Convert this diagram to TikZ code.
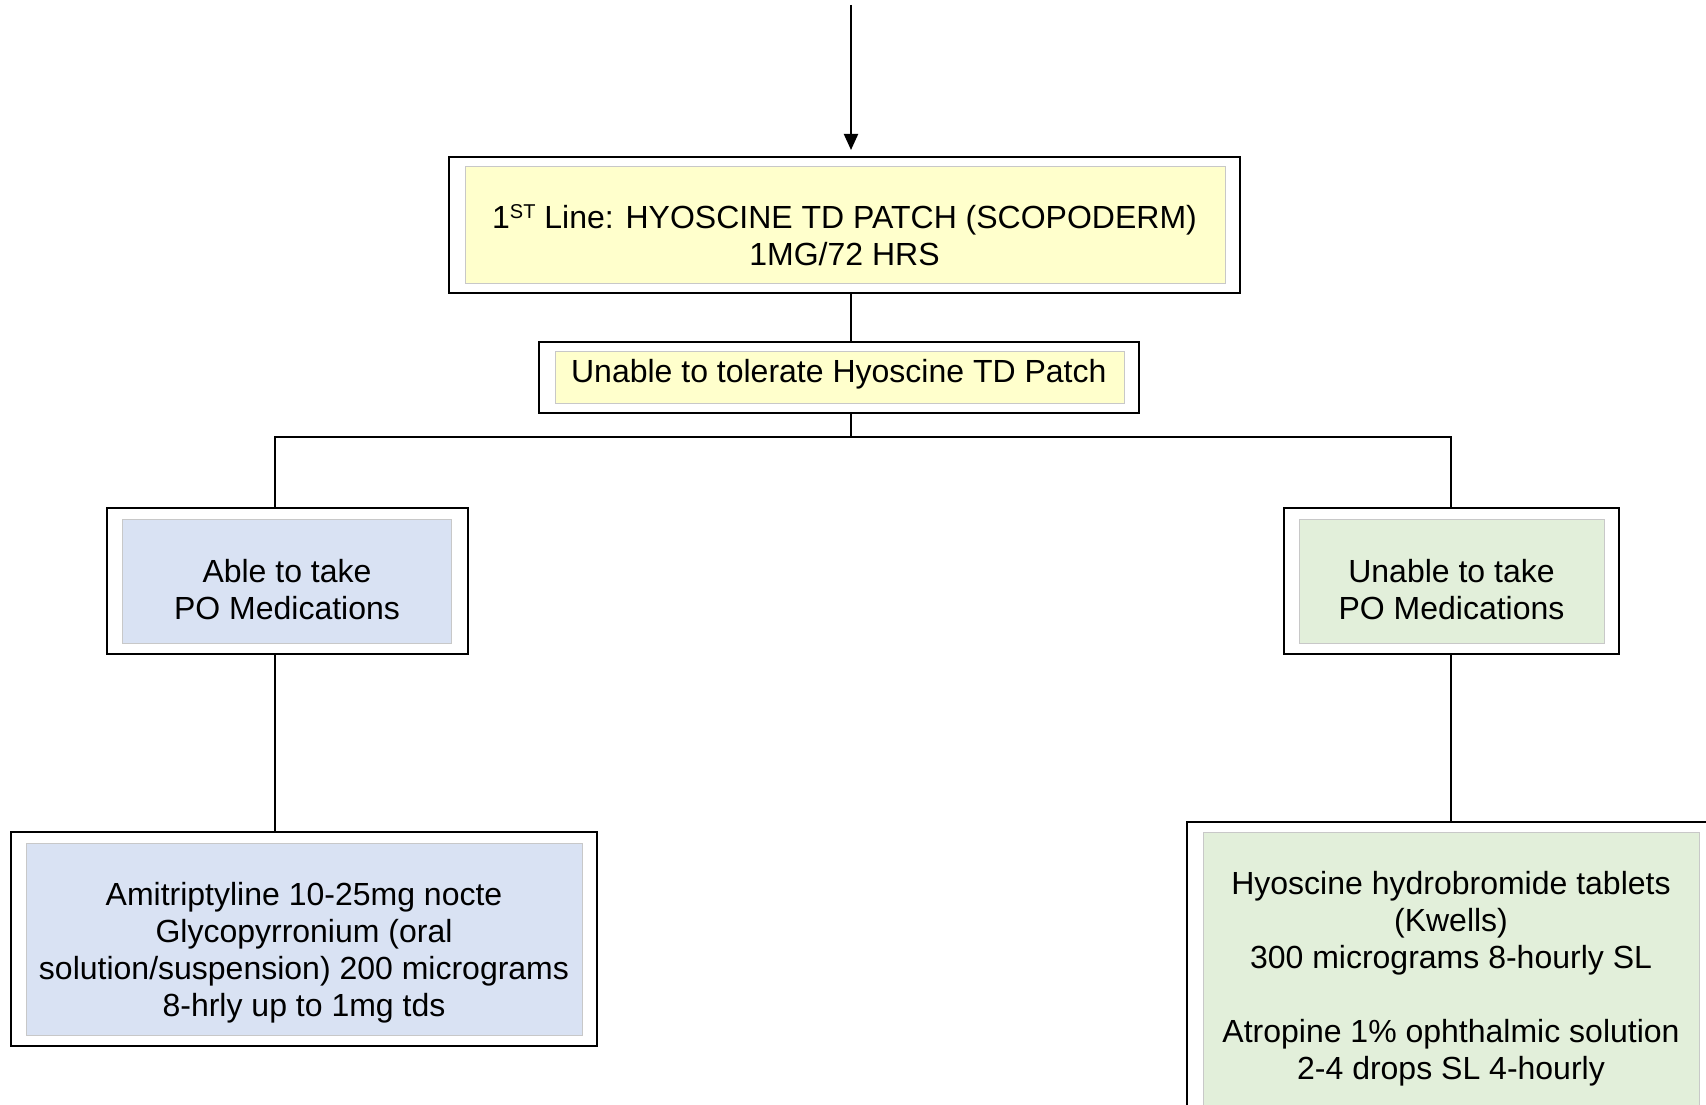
\documentclass[tikz,border=0pt]{standalone}
\usepackage{fontspec}
\setmainfont{Liberation Sans}
\usetikzlibrary{arrows.meta}
\definecolor{fillY}{HTML}{FFFFCC}
\definecolor{fillB}{HTML}{D9E2F3}
\definecolor{fillG}{HTML}{E2EFDA}
\definecolor{innerline}{HTML}{C8C8C8}
\begin{document}
\begin{tikzpicture}[x=1pt,y=-1pt,
  outerbox/.style={draw=black, line width=2pt, rectangle, inner sep=0pt, outer sep=0pt},
  innerfill/.style={draw=innerline, line width=1pt},
  txt/.style={font=\fontsize{32}{37}\selectfont, align=center, inner sep=0pt},
  link/.style={draw=black, line width=2pt},
  tip/.style={-{Triangle[length=16pt,width=14pt]}},
]
\useasboundingbox (0,0) rectangle (1706,1105);
\clip (0,0) rectangle (1706,1105);

% inner fills
\filldraw[innerfill, fill=fillY] (465,166.5) rectangle (1225,283);
\filldraw[innerfill, fill=fillY] (555,351.4) rectangle (1124,403.6);
\filldraw[innerfill, fill=fillB] (122,519) rectangle (451.5,643);
\filldraw[innerfill, fill=fillG] (1299,519) rectangle (1604,643);
\filldraw[innerfill, fill=fillB] (26,843) rectangle (582,1035);
\filldraw[innerfill, fill=fillG] (1203,832) rectangle (1699.5,1125);

% outer boxes
\node[outerbox, minimum width=791pt, minimum height=136pt] (b1) at (844.5,225) {};
\node[outerbox, minimum width=600.4pt, minimum height=71.8pt] (b2) at (838.8,377.5) {};
\node[outerbox, minimum width=361.4pt, minimum height=146pt] (b3) at (287.3,581) {};
\node[outerbox, minimum width=335pt, minimum height=146pt] (b4) at (1451.5,581) {};
\node[outerbox, minimum width=586pt, minimum height=214pt] (b5) at (304,939) {};
\node[outerbox, minimum width=528pt, minimum height=320pt] (b6) at (1451,981.5) {};

% texts
\node[txt] (t1) at (844.5,235) {1\raisebox{10pt}{\fontsize{20}{20}\selectfont ST} Line: HYOSCINE TD PATCH (SCOPODERM)\\1MG/72 HRS};
\node[txt] (t2) at (838.8,374) {Unable to tolerate Hyoscine TD Patch};
\node[txt] (t3) at (287,590) {Able to take\\PO Medications};
\node[txt] (t4) at (1451.5,590) {Unable to take\\PO Medications};
\node[txt] (t5) at (304,952.5) {Amitriptyline 10-25mg nocte\\Glycopyrronium (oral\\solution/suspension) 200 micrograms\\8-hrly up to 1mg tds};
\node[txt] (t6) at (1451,978.5) {Hyoscine hydrobromide tablets\\(Kwells)\\300 micrograms 8-hourly SL\\[37pt]Atropine 1\% ophthalmic solution\\2-4 drops SL 4-hourly};

% connectors
\coordinate (top) at (851,5);
\coordinate (split) at (851,437);
\coordinate (lx) at (275,437);
\coordinate (rx) at (1451,437);
\draw[link, tip, shorten >=7pt] (top) -- (top |- b1.north);
\draw[link] (top |- b1.south) -- (top |- b2.north);
\draw[link] (top |- b2.south) -- (split);
\draw[link] (lx |- b3.north) -- (lx) -- (split) -- (rx) -- (rx |- b4.north);
\draw[link] (lx |- b3.south) -- (lx |- b5.north);
\draw[link] (rx |- b4.south) -- (rx |- b6.north);
\end{tikzpicture}
\end{document}
